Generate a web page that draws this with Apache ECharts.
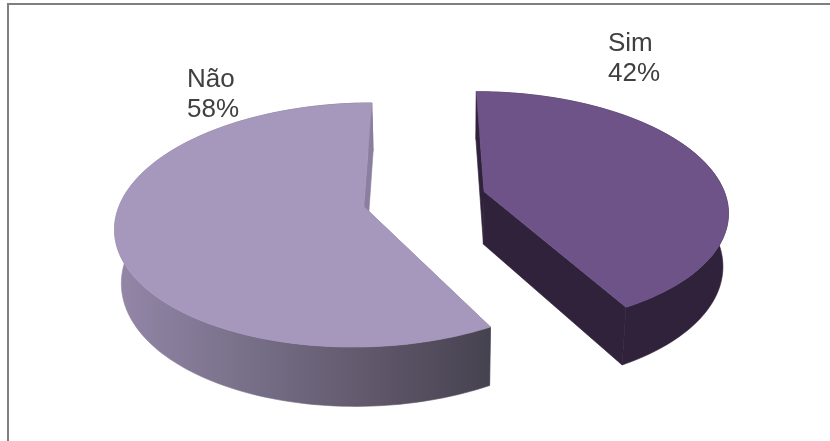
<!DOCTYPE html>
<html>
<head>
<meta charset="utf-8">
<style>html,body{margin:0;padding:0;background:#fff}#chart{width:830px;height:441px}</style>
<script src="https://cdn.jsdelivr.net/npm/echarts@6/dist/echarts.min.js"></script>
</head>
<body>
<div id="chart"></div>
<script>
const categories = ['Não', 'Sim'];
const shares = [58, 42];
const labelCorners = [[187, 65], [608, 29]];

// Camera and pie dimensions for the tilted, exploded disc
const CX = 424.5, CY = 199, RX = 242.5, RY = 117, DEPTH = 54, NADIR_SHIFT = 0.52;
const TILT_PERSPECTIVE = 0.15, DEPTH_PERSPECTIVE = 0.02;
const EXPLODE = 0.256;
const START_DEG = 0;
const deg = Math.PI / 180;

function project(u, v, z) {
  const w = 1 - TILT_PERSPECTIVE * v + DEPTH_PERSPECTIVE * z;
  return [CX + (RX * u + NADIR_SHIFT * z) / w, CY + (RY * v + DEPTH * z) / w];
}

// Angles are clockwise from twelve o'clock; each slice is pushed out along its bisector
function sliceGeometry(index) {
  const total = shares.reduce((a, b) => a + b, 0);
  const simSweep = shares[1] / total * 360;
  const from = index === 1 ? START_DEG : START_DEG + simSweep;
  const to = index === 1 ? START_DEG + simSweep : START_DEG + 360;
  const mid = (from + to) / 2 * deg;
  return {
    from, to,
    ou: EXPLODE * Math.sin(mid),
    ov: -EXPLODE * Math.cos(mid)
  };
}

function rimPoints(g, z) {
  const pts = [];
  for (let a = g.from; a <= g.to + 1e-6; a += 1.5) {
    pts.push(project(g.ou + Math.sin(a * deg), g.ov - Math.cos(a * deg), z));
  }
  pts.push(project(g.ou + Math.sin(g.to * deg), g.ov - Math.cos(g.to * deg), z));
  return pts;
}

const palette = [
  {
    top: '#a698bc',
    cut: '#8b7fa0',
    wall: { type: 'linear', x: 115, y: 0, x2: 492, y2: 0, global: true, colorStops: [
      { offset: 0, color: '#9486a8' },
      { offset: 0.35, color: '#787089' },
      { offset: 0.7, color: '#5f5669' },
      { offset: 1, color: '#45424f' }
    ] }
  },
  { top: '#6e5389', cut: '#30223a', wall: '#30223a' }
];

function renderSlice(params, api) {
  const index = api.value(0);
  const g = sliceGeometry(index);
  const topRim = rimPoints(g, 0);
  const lowRim = rimPoints(g, 1);
  const apexTop = project(g.ou, g.ov, 0);
  const apexLow = project(g.ou, g.ov, 1);
  const style = palette[index];
  const last = topRim.length - 1;
  const poly = (points, fill) => ({
    type: 'polygon',
    shape: { points },
    style: { fill, stroke: fill, lineWidth: 0.6 }
  });
  // Painter's order: the far cut face, the curved wall, the near cut face, then the lid
  return {
    type: 'group',
    children: [
      poly([apexTop, topRim[0], lowRim[0], apexLow], style.cut),
      poly(topRim.concat(lowRim.slice().reverse()), style.wall),
      poly([apexTop, topRim[last], lowRim[last], apexLow], style.cut),
      poly([apexTop].concat(topRim), style.top),
      {
        type: 'text',
        style: {
          x: labelCorners[index][0],
          y: labelCorners[index][1],
          text: categories[index] + '\n' + api.value(1) + '%',
          fill: '#404040',
          font: '26px "Liberation Sans", Arial, sans-serif',
          lineHeight: 30,
          textAlign: 'left',
          textVerticalAlign: 'top'
        }
      }
    ]
  };
}

const frameStyle = { stroke: '#7f7f7f', lineWidth: 2 };
const chart = echarts.init(document.getElementById('chart'), null, { renderer: 'canvas' });
chart.setOption({
  animation: false,
  backgroundColor: '#ffffff',
  graphic: [
    { type: 'line', shape: { x1: 7, y1: 4, x2: 830, y2: 4 }, style: frameStyle, silent: true },
    { type: 'line', shape: { x1: 8, y1: 3, x2: 8, y2: 441 }, style: frameStyle, silent: true }
  ],
  series: [{
    type: 'custom',
    coordinateSystem: 'none',
    renderItem: renderSlice,
    encode: { value: [1] },
    data: categories.map((name, i) => ({ name, value: [i, shares[i]] }))
  }]
});
</script>
</body>
</html>
